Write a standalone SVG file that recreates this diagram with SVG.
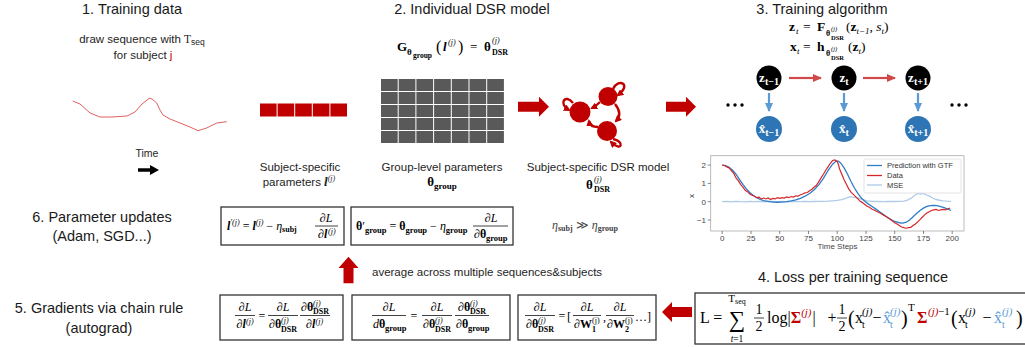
<svg xmlns="http://www.w3.org/2000/svg" width="1025" height="347" viewBox="0 0 1025 347">
<style>
.h{font-family:"Liberation Sans",Arial,sans-serif;font-size:14.5px;fill:#1a1a1a}
.s{font-family:"Liberation Sans",Arial,sans-serif;font-size:11.5px;fill:#1e1e1e}
.m{font-family:"Liberation Serif","Times New Roman",serif}
.b{font-weight:bold}
.i{font-style:italic}
.box{fill:#fff;stroke:#333;stroke-width:1.3}
.fl{stroke:#111;stroke-width:0.8}
.ra{fill:#c00000}
.tk{font-family:"Liberation Sans",Arial,sans-serif;font-size:8px;fill:#444}
.lg{font-family:"Liberation Sans",Arial,sans-serif;font-size:7.5px;fill:#333}
.net{fill:none;stroke:#c00000;stroke-width:2.4}
.red{fill:#c00000}
</style>
<defs>
<marker id="mr" markerWidth="9" markerHeight="8" refX="8" refY="4" orient="auto" markerUnits="userSpaceOnUse"><path d="M0,0 L9,4 L0,8 z" fill="#d04848"/></marker>
<marker id="mb" markerWidth="9" markerHeight="8" refX="8" refY="4" orient="auto" markerUnits="userSpaceOnUse"><path d="M0,0 L9,4 L0,8 z" fill="#5b9bd5"/></marker>
<marker id="mn" markerWidth="7" markerHeight="7" refX="5" refY="3.5" orient="auto" markerUnits="userSpaceOnUse"><path d="M0,0 L7,3.5 L0,7 z" fill="#c00000"/></marker>
</defs>

<!-- Section 1 -->
<g id="training-data">
<text class="h" x="132" y="13.5" text-anchor="middle">1. Training data</text>
<text class="s" x="142" y="43" text-anchor="middle">draw sequence with <tspan font-family="Liberation Serif">T</tspan><tspan style="font-size:8.5px" dy="2">seq</tspan></text>
<text class="s" x="143" y="59" text-anchor="middle">for subject <tspan fill="#c00000">j</tspan></text>
<polyline fill="none" stroke="#e06060" stroke-width="1" points="72.7,101 80,104 90,113 100,117 112,117 127,116 135,112 142,104 149.3,98.3 152,99 156.7,103 160,110 163,115 170,119 180,123 190,127 198,130.7 206.7,128 216.7,123 226.7,121.7"/>
<text class="s" x="147" y="157" text-anchor="middle" style="font-size:10.5px">Time</text>
<path d="M138,170 H151" stroke="#000" stroke-width="3.5"/>
<polygon points="150,165 159,170 150,175" fill="#000"/>
</g>

<!-- Section 2 -->
<g id="individual-dsr">
<text class="h" x="472" y="13.5" text-anchor="middle">2. Individual DSR model</text>
<g class="m" font-size="13">
<text x="397" y="51" class="b">G</text>
<text x="407" y="55" class="b" font-size="9">θ</text>
<text x="413" y="58" class="b" font-size="7.5">group</text>
<text x="436" y="52" font-size="16">(</text>
<text x="443" y="51" class="b i">l</text>
<text x="448" y="45" class="i" font-size="8">(j)</text>
<text x="458" y="52" font-size="16">)</text>
<text x="470" y="51">=</text>
<text x="484" y="51" class="b">θ</text>
<text x="492" y="43" class="i" font-size="8">(j)</text>
<text x="492" y="55" class="b" font-size="8">DSR</text>
</g>
</g>

<g id="subject-params">
<rect class="red" x="260" y="103.5" width="16.6" height="13"/>
<rect class="red" x="277.6" y="103.5" width="16.6" height="13"/>
<rect class="red" x="295.2" y="103.5" width="16.6" height="13"/>
<rect class="red" x="312.8" y="103.5" width="16.6" height="13"/>
<rect class="red" x="330.4" y="103.5" width="16.6" height="13"/>
<text class="s" x="300" y="171" text-anchor="middle">Subject-specific</text>
<text class="s" x="299" y="186" text-anchor="middle">parameters <tspan font-family="Liberation Serif" font-weight="bold" font-style="italic" style="font-size:13px">l</tspan><tspan font-family="Liberation Serif" font-style="italic" style="font-size:8px" dy="-5">(j)</tspan></text>
</g>

<g id="group-params">
<g fill="#595959">
<rect x="381" y="79" width="16.7" height="12"/><rect x="398.7" y="79" width="16.7" height="12"/><rect x="416.4" y="79" width="16.7" height="12"/><rect x="434.1" y="79" width="16.7" height="12"/><rect x="451.8" y="79" width="16.7" height="12"/><rect x="469.5" y="79" width="16.7" height="12"/><rect x="487.2" y="79" width="16.7" height="12"/>
<rect x="381" y="92" width="16.7" height="12"/><rect x="398.7" y="92" width="16.7" height="12"/><rect x="416.4" y="92" width="16.7" height="12"/><rect x="434.1" y="92" width="16.7" height="12"/><rect x="451.8" y="92" width="16.7" height="12"/><rect x="469.5" y="92" width="16.7" height="12"/><rect x="487.2" y="92" width="16.7" height="12"/>
<rect x="381" y="105" width="16.7" height="12"/><rect x="398.7" y="105" width="16.7" height="12"/><rect x="416.4" y="105" width="16.7" height="12"/><rect x="434.1" y="105" width="16.7" height="12"/><rect x="451.8" y="105" width="16.7" height="12"/><rect x="469.5" y="105" width="16.7" height="12"/><rect x="487.2" y="105" width="16.7" height="12"/>
<rect x="381" y="118" width="16.7" height="12"/><rect x="398.7" y="118" width="16.7" height="12"/><rect x="416.4" y="118" width="16.7" height="12"/><rect x="434.1" y="118" width="16.7" height="12"/><rect x="451.8" y="118" width="16.7" height="12"/><rect x="469.5" y="118" width="16.7" height="12"/><rect x="487.2" y="118" width="16.7" height="12"/>
<rect x="381" y="131" width="16.7" height="12"/><rect x="398.7" y="131" width="16.7" height="12"/><rect x="416.4" y="131" width="16.7" height="12"/><rect x="434.1" y="131" width="16.7" height="12"/><rect x="451.8" y="131" width="16.7" height="12"/><rect x="469.5" y="131" width="16.7" height="12"/><rect x="487.2" y="131" width="16.7" height="12"/>
</g>
<text class="s" x="442" y="171" text-anchor="middle">Group-level parameters</text>
<text class="m b" x="442" y="186" text-anchor="middle" font-size="13">θ<tspan font-size="9" dy="3">group</tspan></text>
</g>

<g id="dsr-model">
<circle class="red" cx="608" cy="96.5" r="9.5"/>
<circle class="red" cx="580" cy="112" r="10.5"/>
<circle class="red" cx="607" cy="131" r="10"/>
<path class="net" d="M613,89 C619,77 632,85 618,95" marker-end="url(#mn)"/>
<path class="net" d="M573,103 C565,93 558,104 569,110" marker-end="url(#mn)"/>
<path class="net" d="M613,139 C625,141 622,153 611,142" marker-end="url(#mn)"/>
<path class="net" d="M615,104 Q623,114 616,121" marker-end="url(#mn)"/>
<path class="net" d="M598,127 Q590,127 589,121" marker-end="url(#mn)"/>
<path class="net" d="M600,102 Q596,106 592,108" marker-end="url(#mn)"/>
<text class="s" x="598" y="171" text-anchor="middle">Subject-specific DSR model</text>
<text class="m b" x="586" y="189" font-size="13">θ</text>
<text class="m i" x="594" y="182" font-size="8">(j)</text>
<text class="m b" x="594" y="192" font-size="8">DSR</text>
</g>

<!-- Section 3 -->
<g id="training-algorithm">
<text class="h" x="822" y="13.5" text-anchor="middle">3. Training algorithm</text>
<g class="m" font-size="13.5">
<text x="789" y="31" class="b">z</text><text x="796" y="34" class="i" font-size="9">t</text>
<text x="803" y="31">=</text>
<text x="817" y="31" class="b">F</text>
<text x="826" y="36" class="b" font-size="8">θ</text>
<text x="831" y="31" class="i" font-size="6.5">(j)</text>
<text x="831" y="40" class="b" font-size="6.5">DSR</text>
<text x="846" y="31">(<tspan class="b">z</tspan><tspan class="i" font-size="9" dy="3">t−1</tspan><tspan dy="-3">, </tspan><tspan class="i">s</tspan><tspan class="i" font-size="9" dy="3">t</tspan><tspan dy="-3">)</tspan></text>
<text x="790" y="51" class="b">x</text><text x="797" y="54" class="i" font-size="9">t</text>
<text x="803" y="51">=</text>
<text x="817" y="51" class="b">h</text>
<text x="826" y="56" class="b" font-size="8">θ</text>
<text x="831" y="51" class="i" font-size="6.5">(j)</text>
<text x="831" y="60" class="b" font-size="6.5">DSR</text>
<text x="848" y="51">(<tspan class="b">z</tspan><tspan class="i" font-size="9" dy="3">t</tspan><tspan dy="-3">)</tspan></text>
</g>
</g>

<g id="node-z-prev"><circle cx="769" cy="78" r="12.5" fill="#000"/><text class="m b" x="769" y="82" text-anchor="middle" fill="#fff" font-size="13">z<tspan font-size="10" dy="3">t−1</tspan></text></g>
<g id="node-z"><circle cx="844" cy="78" r="12.5" fill="#000"/><text class="m b" x="844" y="82" text-anchor="middle" fill="#fff" font-size="13">z<tspan font-size="10" dy="3">t</tspan></text></g>
<g id="node-z-next"><circle cx="918" cy="78" r="12.5" fill="#000"/><text class="m b" x="918" y="82" text-anchor="middle" fill="#fff" font-size="13">z<tspan font-size="10" dy="3">t+1</tspan></text></g>
<g id="node-x-prev"><circle cx="769" cy="129" r="13" fill="#2e75b6"/><text class="m b" x="769" y="133" text-anchor="middle" fill="#fff" font-size="13">x̂<tspan font-size="10" dy="3">t−1</tspan></text></g>
<g id="node-x"><circle cx="844" cy="129" r="13" fill="#2e75b6"/><text class="m b" x="844" y="133" text-anchor="middle" fill="#fff" font-size="13">x̂<tspan font-size="10" dy="3">t</tspan></text></g>
<g id="node-x-next"><circle cx="918" cy="129" r="13" fill="#2e75b6"/><text class="m b" x="918" y="133" text-anchor="middle" fill="#fff" font-size="13">x̂<tspan font-size="10" dy="3">t+1</tspan></text></g>
<g id="dots" fill="#000">
<circle cx="728" cy="105" r="1.7"/><circle cx="735" cy="105" r="1.7"/><circle cx="742" cy="105" r="1.7"/>
<circle cx="952" cy="105" r="1.7"/><circle cx="959" cy="105" r="1.7"/><circle cx="966" cy="105" r="1.7"/>
</g>

<!-- Plot -->
<g id="plot">
<rect x="710.7" y="155.7" width="253.3" height="75.3" fill="#fff" stroke="#aaa" stroke-width="0.8"/>
<g stroke="#555" stroke-width="0.7">
<path d="M722.2,231v3M751,231v3M779.7,231v3M808.5,231v3M837.2,231v3M866,231v3M894.7,231v3M923.5,231v3M952.2,231v3"/>
<path d="M707.7,165.1h3M707.7,183.4h3M707.7,201.7h3M707.7,220h3"/>
</g>
<g class="tk" text-anchor="middle">
<text x="722.2" y="241">0</text><text x="751" y="241">25</text><text x="779.7" y="241">50</text><text x="808.5" y="241">75</text><text x="837.2" y="241">100</text><text x="866" y="241">125</text><text x="894.7" y="241">150</text><text x="923.5" y="241">175</text><text x="952.2" y="241">200</text>
</g>
<g class="tk" text-anchor="end">
<text x="706" y="168">2</text><text x="706" y="186.3">1</text><text x="706" y="204.6">0</text><text x="706" y="222.9">−1</text>
</g>
<text class="tk" x="837.5" y="249" text-anchor="middle">Time Steps</text>
<text class="tk" x="0" y="0" transform="translate(694,196) rotate(-90)" text-anchor="middle">x</text>
<g transform="translate(722.2,201.7) scale(1.15,-18.3)" fill="none">
<polyline vector-effect="non-scaling-stroke" stroke="#aecbe8" stroke-width="1.3" points="0,0 4,0.02 8,-0.01 12,0.02 16,0 20,-0.01 24,0.02 28,0 32,0.02 36,-0.01 40,0.01 44,0.02 48,0 52,0.02 56,-0.01 60,0.01 64,0.02 68,0 72,0.02 76,0 80,0.01 84,0.02 88,0.02 92,0.03 96,0.05 100,0.07 104,0.11 108,0.19 111,0.27 113,0.25 116,0.24 119,0.18 122,0.12 126,0.05 130,0.02 135,0.01 140,0 145,0.02 150,0.01 155,0.02 158,0.03 161,0.08 164,0.18 167,0.33 169,0.42 171,0.46 173,0.42 175,0.45 177,0.38 180,0.32 183,0.2 186,0.12 189,0.08 192,0.05 195,0.03 199,0.02"/>
<polyline vector-effect="non-scaling-stroke" stroke="#2f7dc6" stroke-width="1.3" points="0,2 3,1.97 6,1.88 9,1.72 12,1.5 15,1.22 18,0.95 21,0.7 24,0.5 27,0.35 30,0.22 33,0.12 36,0.06 40,0.02 44,-0.02 48,-0.03 52,-0.02 56,0 60,0.04 64,0.1 68,0.18 72,0.3 76,0.45 80,0.65 84,0.92 88,1.28 92,1.7 96,2.05 99,2.22 101,2.22 103,2.12 106,1.85 109,1.5 112,1.1 115,0.75 118,0.45 121,0.2 124,0.02 127,-0.12 130,-0.25 134,-0.42 138,-0.6 142,-0.78 146,-0.95 150,-1.08 154,-1.15 157,-1.17 160,-1.12 163,-1 166,-0.82 169,-0.65 172,-0.48 175,-0.35 178,-0.26 181,-0.21 184,-0.2 187,-0.22 190,-0.27 193,-0.33 196,-0.4 199,-0.48"/>
<polyline vector-effect="non-scaling-stroke" stroke="#d62728" stroke-width="1.2" points="0,2 2,1.98 4,1.9 6,1.85 8,1.7 10,1.55 12,1.3 14,1.15 16,0.95 18,0.8 20,0.62 22,0.55 24,0.42 26,0.35 28,0.3 30,0.22 32,0.25 34,0.15 36,0.2 38,0.15 40,0.2 42,0.12 44,0.18 46,0.15 48,0.22 50,0.18 52,0.22 54,0.2 56,0.26 58,0.22 60,0.28 62,0.25 64,0.32 66,0.3 68,0.38 70,0.42 72,0.48 74,0.5 76,0.6 78,0.68 80,0.8 82,0.9 84,1.1 86,1.3 88,1.5 90,1.72 92,1.9 94,2.1 96,2.25 98,2.28 100,2.2 101,2.05 102,1.8 104,1.5 106,1.2 108,0.95 110,0.7 112,0.52 114,0.4 116,0.28 118,0.15 120,0.02 122,-0.05 124,-0.15 126,-0.25 128,-0.3 130,-0.4 132,-0.45 134,-0.52 136,-0.58 138,-0.65 140,-0.72 142,-0.8 144,-0.88 146,-0.95 148,-1.05 150,-1.15 152,-1.22 154,-1.3 156,-1.38 158,-1.42 160,-1.45 162,-1.42 164,-1.4 166,-1.3 168,-1.22 170,-1.1 172,-0.98 174,-0.85 176,-0.72 178,-0.62 180,-0.55 182,-0.48 184,-0.45 186,-0.42 188,-0.48 190,-0.45 192,-0.42 194,-0.45 196,-0.4 198,-0.35"/>
</g>
<rect x="864" y="159" width="97" height="34" fill="#fff" fill-opacity="0.9" stroke="#ddd" stroke-width="0.8" rx="1.5"/>
<path d="M867,165.5h15" stroke="#2f7dc6" stroke-width="1.3"/>
<path d="M867,175.5h15" stroke="#d62728" stroke-width="1.3"/>
<path d="M867,185h15" stroke="#aecbe8" stroke-width="1.3"/>
<text class="lg" x="887" y="168">Prediction with GTF</text>
<text class="lg" x="887" y="178">Data</text>
<text class="lg" x="887" y="187.5">MSE</text>
</g>

<!-- Section 4 -->
<g id="loss">
<text class="h" x="853" y="282" text-anchor="middle">4. Loss per training sequence</text>
<rect class="box" x="695" y="293" width="340" height="51"/>
<g class="m" font-size="16">
<text x="700" y="323">L =</text>
<text x="737" y="327" font-size="23" text-anchor="middle">∑</text>
<text x="737" y="302" font-size="11" text-anchor="middle">T<tspan font-size="8" dy="2">seq</tspan></text>
<text x="737" y="342" font-size="9.5" text-anchor="middle"><tspan class="i">t</tspan>=1</text>
<text x="759" y="314" font-size="14" text-anchor="middle">1</text>
<path class="fl" d="M754,318H764"/>
<text x="759" y="331" font-size="14" text-anchor="middle">2</text>
<text x="767" y="323">log|<tspan class="b" fill="#c00000">Σ</tspan><tspan class="i" fill="#c00000" font-size="11" dy="-7">(j)</tspan><tspan dx="1" dy="7">|</tspan></text>
<text x="832" y="323" text-anchor="middle">+</text>
<text x="842" y="314" font-size="14" text-anchor="middle">1</text>
<path class="fl" d="M837,318H847"/>
<text x="842" y="331" font-size="14" text-anchor="middle">2</text>
<text x="848" y="325" font-size="20">(</text>
<text x="855" y="323">x</text>
<text x="862" y="315" class="i" font-size="11">(j)</text>
<text x="862" y="328" font-size="10">t</text>
<text x="877" y="323" text-anchor="middle">−</text>
<text x="883" y="323" fill="#5b9bd5">x̂</text>
<text x="890" y="315" class="i" font-size="11" fill="#5b9bd5">(j)</text>
<text x="890" y="328" font-size="10" fill="#5b9bd5">t</text>
<text x="901" y="325" font-size="20">)</text>
<text x="908" y="311" font-size="11">T</text>
<text x="917" y="323" class="b" fill="#c00000">Σ</text>
<text x="928" y="315" class="i" font-size="11" fill="#c00000">(j)</text>
<text x="938" y="315" font-size="11">−1</text>
<text x="951" y="325" font-size="20">(</text>
<text x="958" y="323">x</text>
<text x="965" y="315" class="i" font-size="11">(j)</text>
<text x="965" y="328" font-size="10">t</text>
<text x="987" y="323" text-anchor="middle">−</text>
<text x="994" y="323" fill="#5b9bd5">x̂</text>
<text x="1002" y="315" class="i" font-size="11" fill="#5b9bd5">(j)</text>
<text x="1002" y="328" font-size="10" fill="#5b9bd5">t</text>
<text x="1016" y="325" font-size="20">)</text>
</g>
</g>

<!-- Section 6 -->
<g id="param-updates">
<text class="h" x="102" y="222" text-anchor="middle">6. Parameter updates</text>
<text class="h" x="102" y="241" text-anchor="middle">(Adam, SGD...)</text>
</g>
<g id="update-l">
<rect class="box" x="221" y="207" width="123" height="38"/>
<g class="m" font-size="12">
<text x="227" y="230"><tspan class="b i">l</tspan><tspan class="i" font-size="8" dy="-5">′(j)</tspan><tspan dy="5"> = </tspan><tspan class="b i">l</tspan><tspan class="i" font-size="8" dy="-5">(j)</tspan><tspan dy="5"> − </tspan><tspan class="i">η</tspan><tspan font-size="8" class="b" dy="2">subj</tspan></text>
<text x="326" y="222" text-anchor="middle"><tspan>∂</tspan><tspan class="i">L</tspan></text>
<path class="fl" d="M315,226H338"/>
<text x="318" y="238">∂<tspan class="b i">l</tspan></text>
<text x="328" y="234" class="i" font-size="8">(j)</text>
</g>
</g>
<g id="update-group">
<rect class="box" x="351" y="207" width="162" height="38"/>
<g class="m" font-size="12">
<text x="356" y="230"><tspan class="b">θ</tspan>′<tspan class="b" font-size="8.5" dy="3">group</tspan><tspan dy="-3"> = </tspan><tspan class="b">θ</tspan><tspan class="b" font-size="8.5" dy="3">group</tspan><tspan dy="-3"> − </tspan><tspan class="i">η</tspan><tspan class="b" font-size="8.5" dy="3">group</tspan></text>
<text x="491" y="222" text-anchor="middle">∂<tspan class="i">L</tspan></text>
<path class="fl" d="M473,226H508"/>
<text x="474" y="238">∂<tspan class="b">θ</tspan></text>
<text x="486" y="241" class="b" font-size="8.5">group</text>
</g>
</g>
<g id="eta-relation">
<text class="m" x="585" y="229" text-anchor="middle" fill="#444" font-size="12"><tspan class="i">η</tspan><tspan font-size="8" dy="2" class="b">subj</tspan><tspan dy="-2"> ≫ </tspan><tspan class="i">η</tspan><tspan font-size="8" dy="2" class="b">group</tspan></text>
</g>

<!-- average label -->
<text id="average-label" class="s" x="372" y="276">average across multiple sequences&amp;subjects</text>

<!-- Section 5 -->
<g id="gradients">
<text class="h" x="99" y="313" text-anchor="middle">5. Gradients via chain rule</text>
<text class="h" x="99" y="333" text-anchor="middle">(autograd)</text>
</g>
<g id="grad-l">
<rect class="box" x="220" y="295" width="123" height="45"/>
<g class="m" font-size="12">
<text x="245" y="311" text-anchor="middle">∂<tspan class="i">L</tspan></text>
<path class="fl" d="M235,315.5H255"/>
<text x="236.5" y="328">∂<tspan class="b i">l</tspan></text><text x="246" y="324" class="i" font-size="8">(j)</text>
<text x="262" y="320" text-anchor="middle">=</text>
<text x="283" y="311" text-anchor="middle">∂<tspan class="i">L</tspan></text>
<path class="fl" d="M268,315.5H298"/>
<text x="269" y="328">∂<tspan class="b">θ</tspan></text><text x="281" y="323" class="i" font-size="8">(j)</text><text x="281" y="332" class="b" font-size="8">DSR</text>
<text x="301" y="311">∂<tspan class="b">θ</tspan></text><text x="313" y="306" class="i" font-size="8">(j)</text><text x="313" y="314" class="b" font-size="8">DSR</text>
<path class="fl" d="M300,315.5H330"/>
<text x="306" y="328">∂<tspan class="b i">l</tspan></text><text x="315.5" y="324" class="i" font-size="8">(j)</text>
</g>
</g>
<g id="grad-group">
<rect class="box" x="352" y="295" width="158" height="45"/>
<g class="m" font-size="12">
<text x="389" y="311" text-anchor="middle">∂<tspan class="i">L</tspan></text>
<path class="fl" d="M372,315.5H406"/>
<text x="373" y="328"><tspan class="i">d</tspan><tspan class="b">θ</tspan></text><text x="385" y="331" class="b" font-size="8.5">group</text>
<text x="414" y="320" text-anchor="middle">=</text>
<text x="437" y="311" text-anchor="middle">∂<tspan class="i">L</tspan></text>
<path class="fl" d="M422,315.5H452"/>
<text x="423" y="328">∂<tspan class="b">θ</tspan></text><text x="435" y="323" class="i" font-size="8">(j)</text><text x="435" y="332" class="b" font-size="8">DSR</text>
<text x="458" y="311">∂<tspan class="b">θ</tspan></text><text x="470" y="306" class="i" font-size="8">(j)</text><text x="470" y="314" class="b" font-size="8">DSR</text>
<path class="fl" d="M455,315.5H489"/>
<text x="456" y="328">∂<tspan class="b">θ</tspan></text><text x="468" y="331" class="b" font-size="8.5">group</text>
</g>
</g>
<g id="grad-dsr">
<rect class="box" x="518" y="295" width="138" height="45"/>
<g class="m" font-size="12">
<text x="540" y="311" text-anchor="middle">∂<tspan class="i">L</tspan></text>
<path class="fl" d="M525,315.5H555"/>
<text x="526" y="328">∂<tspan class="b">θ</tspan></text><text x="538" y="323" class="i" font-size="8">(j)</text><text x="538" y="332" class="b" font-size="8">DSR</text>
<text x="562" y="320" text-anchor="middle">=</text>
<text x="567" y="321" font-size="13">[</text>
<text x="587" y="311" text-anchor="middle">∂<tspan class="i">L</tspan></text>
<path class="fl" d="M573,315.5H601"/>
<text x="574" y="328">∂<tspan class="b">W</tspan></text><text x="592" y="323" font-size="8">(j)</text><text x="592" y="332" class="b" font-size="8">1</text>
<text x="603" y="321">,</text>
<text x="620" y="311" text-anchor="middle">∂<tspan class="i">L</tspan></text>
<path class="fl" d="M606,315.5H634"/>
<text x="607" y="328">∂<tspan class="b">W</tspan></text><text x="625" y="323" font-size="8">(j)</text><text x="625" y="332" class="b" font-size="8">2</text>
<text x="635" y="321">…]</text>
</g>
</g>

<!-- connectors -->
<g id="connectors">
<polygon class="ra" points="518,101.7 539,101.7 539,96.7 549,106.7 539,116.7 539,111.7 518,111.7"/>
<polygon class="ra" points="666,101.7 686,101.7 686,96.7 696,106.7 686,116.7 686,111.7 666,111.7"/>
<polygon class="ra" points="692,307 672,307 672,302 662,312 672,322 672,317 692,317"/>
<polygon class="ra" points="343.5,283.3 343.5,268 338.5,268 348.5,256.7 358.5,268 353.5,268 353.5,283.3"/>
<path d="M789,78H821" stroke="#d04848" stroke-width="2.2" marker-end="url(#mr)"/>
<path d="M863,78H895" stroke="#d04848" stroke-width="2.2" marker-end="url(#mr)"/>
<path d="M769,93V111" stroke="#5b9bd5" stroke-width="2.2" marker-end="url(#mb)"/>
<path d="M844,93V111" stroke="#5b9bd5" stroke-width="2.2" marker-end="url(#mb)"/>
<path d="M918,93V111" stroke="#5b9bd5" stroke-width="2.2" marker-end="url(#mb)"/>
</g>
</svg>
